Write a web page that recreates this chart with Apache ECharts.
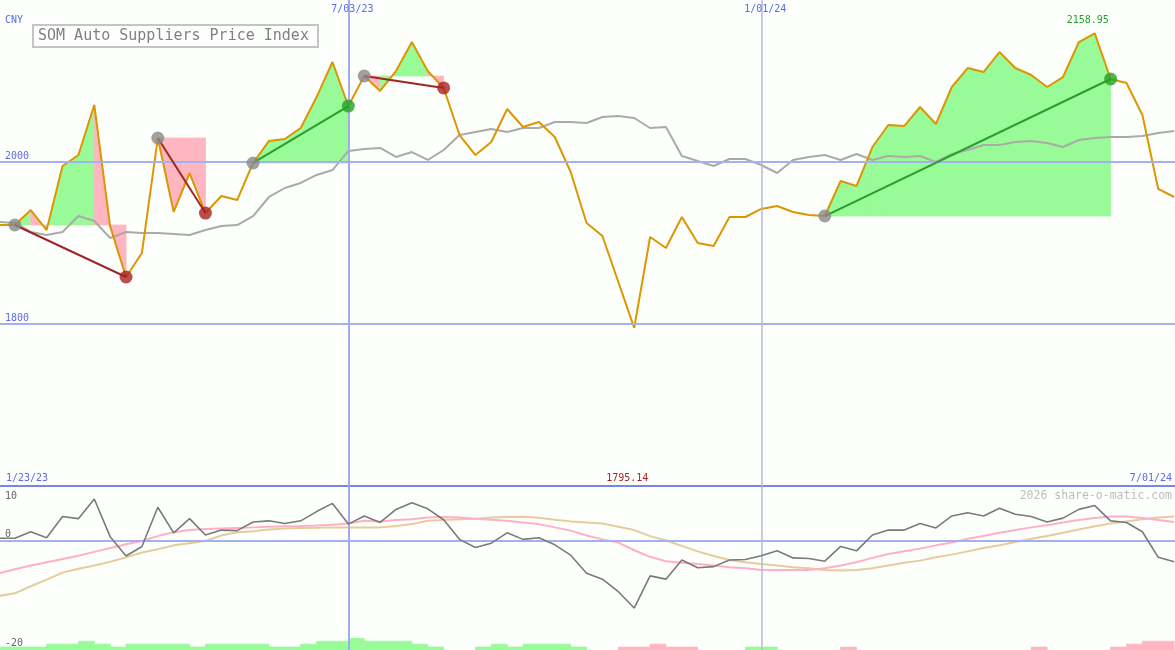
<!DOCTYPE html>
<html>
<head>
<meta charset="utf-8">
<script src="https://cdn.jsdelivr.net/npm/echarts@6/dist/echarts.min.js"></script>
<style>
html,body{margin:0;padding:0;background:#fdfffd;}
#chart{width:1175px;height:650px;}
</style>
</head>
<body>
<div id="chart"></div>
<script>
// ---- data (weekly) ----
const dates = [
'2023-01-30','2023-02-06','2023-02-13','2023-02-20','2023-02-27','2023-03-06','2023-03-13','2023-03-20','2023-03-27','2023-04-03',
'2023-04-10','2023-04-17','2023-04-24','2023-05-01','2023-05-08','2023-05-15','2023-05-22','2023-05-29','2023-06-05','2023-06-12',
'2023-06-19','2023-06-26','2023-07-03','2023-07-10','2023-07-17','2023-07-24','2023-07-31','2023-08-07','2023-08-14','2023-08-21',
'2023-08-28','2023-09-04','2023-09-11','2023-09-18','2023-09-25','2023-10-02','2023-10-09','2023-10-16','2023-10-23','2023-10-30',
'2023-11-06','2023-11-13','2023-11-20','2023-11-27','2023-12-04','2023-12-11','2023-12-18','2023-12-25','2024-01-01','2024-01-08',
'2024-01-15','2024-01-22','2024-01-29','2024-02-05','2024-02-12','2024-02-19','2024-02-26','2024-03-04','2024-03-11','2024-03-18',
'2024-03-25','2024-04-01','2024-04-08','2024-04-15','2024-04-22','2024-04-29','2024-05-06','2024-05-13','2024-05-20','2024-05-27',
'2024-06-03','2024-06-10','2024-06-17','2024-06-24','2024-07-01'];

const price = [
1922.2,1922.2,1940.7,1916.0,1995.1,2008.6,2070.4,1920.5,1858.0,1887.7,
2029.6,1938.3,1986.4,1937.0,1958.0,1953.1,1998.8,2026.0,2028.4,2042.0,
2080.2,2123.5,2069.1,2106.2,2087.7,2112.3,2148.1,2112.3,2091.4,2033.3,
2008.6,2024.7,2065.4,2043.2,2049.4,2030.9,1987.7,1924.7,1908.6,1851.9,
1795.14,1907.4,1893.8,1932.1,1900.0,1896.3,1932.1,1932.1,1942.0,1945.7,
1938.3,1934.6,1933.3,1976.5,1970.4,2018.5,2045.7,2044.4,2067.9,2046.9,
2092.6,2116.0,2111.1,2135.8,2116.0,2107.4,2092.6,2104.9,2148.1,2158.95,
2102.5,2097.5,2058.0,1966.7,1956.8];

const movingAvg = [
1925.9,1924.7,1913.6,1909.9,1913.6,1933.3,1927.2,1906.2,1913.6,1912.3,
1912.3,1911.1,1909.9,1916.0,1921.0,1922.2,1933.3,1956.8,1967.9,1974.1,
1984.0,1990.1,2013.6,2016.0,2017.3,2006.2,2012.3,2002.5,2014.8,2033.3,
2037.0,2040.7,2037.0,2042.0,2042.0,2049.4,2049.4,2048.1,2055.6,2056.8,
2054.3,2042.0,2043.2,2007.4,2001.2,1995.1,2003.7,2003.7,1996.3,1986.4,
2002.5,2006.2,2008.6,2002.5,2009.9,2002.5,2007.4,2006.2,2007.4,2000.0,
2009.9,2014.8,2021.0,2021.0,2024.7,2025.9,2023.5,2018.5,2027.2,2029.6,
2030.9,2030.9,2032.1,2035.8,2038.3];

const oscillator = [
0.5,0.5,1.7,0.6,4.5,4.1,7.7,0.8,-2.75,-1.0,
6.2,1.5,4.1,1.1,2.0,1.9,3.5,3.7,3.2,3.7,
5.4,6.9,3.1,4.6,3.4,5.8,7.0,5.9,3.9,0.3,
-1.2,-0.4,1.5,0.3,0.6,-0.7,-2.6,-5.9,-7.0,-9.3,
-12.3,-6.4,-7.0,-3.5,-4.9,-4.7,-3.5,-3.4,-2.7,-1.8,
-3.1,-3.2,-3.7,-1.0,-1.8,1.1,2.0,2.0,3.2,2.4,
4.6,5.2,4.6,6.0,4.9,4.5,3.5,4.2,5.8,6.5,
3.7,3.4,1.7,-3.0,-3.8];

const oscFast = [
-5.9,-5.2,-4.5,-3.9,-3.3,-2.7,-2.0,-1.3,-0.6,0.0,
0.9,1.6,2.0,2.2,2.3,2.4,2.5,2.6,2.7,2.75,
2.85,3.0,3.2,3.7,3.6,3.85,4.0,4.3,4.4,4.3,
4.1,3.9,3.7,3.4,3.1,2.5,1.9,1.0,0.3,-0.3,
-1.7,-2.9,-3.7,-4.0,-4.2,-4.5,-4.8,-5.0,-5.3,-5.3,
-5.3,-5.3,-5.0,-4.5,-3.9,-3.1,-2.4,-1.9,-1.4,-0.8,
-0.3,0.4,0.9,1.5,2.0,2.5,2.9,3.4,3.85,4.2,
4.5,4.5,4.2,3.85,3.5];

const oscSlow = [
-10.1,-9.6,-8.3,-7.1,-5.8,-5.1,-4.5,-3.8,-3.0,-2.1,
-1.5,-0.8,-0.4,0.0,1.0,1.6,1.8,2.1,2.3,2.4,
2.45,2.5,2.5,2.5,2.5,2.75,3.1,3.7,3.85,4.0,
4.1,4.3,4.4,4.45,4.25,3.9,3.6,3.4,3.2,2.6,
2.0,0.9,0.1,-0.9,-1.9,-2.75,-3.5,-3.9,-4.2,-4.5,
-4.8,-5.0,-5.3,-5.4,-5.3,-5.0,-4.5,-4.0,-3.6,-3.0,
-2.5,-1.9,-1.3,-0.8,-0.2,0.4,0.9,1.5,2.1,2.7,
3.2,3.6,4.0,4.3,4.5];

// weekly trend strength bars (interval i -> i+1); positive = up, negative = down
const trendBars = [
1,1,1,2,2,3,2,1,2,2,
2,2,1,2,2,2,2,1,1,2,
3,3,4,3,3,3,2,1,0,0,
1,2,1,2,2,2,1,0,0,-1,
-1,-2,-1,-1,0,0,0,1,1,0,
0,0,0,-1,0,0,0,0,0,0,
0,0,0,0,0,-1,0,0,0,0,
-1,-2,-3,-3];

const entryIdx = [1,10,16,23,52];
const exitIdx  = [8,13,22,28,70];

const mainTicks = [1800, 2000];
const lowerTicks = [10, 0, -20];
const markDates = ['2023-07-03','2024-01-01'];
const markDateLabels = ['7/03/23','1/01/24'];
const rangeLabels = ['1/23/23','7/01/24'];
const unitLabel = 'CNY';
const titleText = 'SOM Auto Suppliers Price Index';
const credit = '2026 share-o-matic.com';

// ---- build ----
const toTs = d => Date.parse(d + 'T00:00:00Z');
const ts = dates.map(toTs);
const xMin = Date.UTC(2023,0,30,10,35);
const xMax = Date.UTC(2024,6,1,9,7);

const GREEN = '#98fb98', PINK = '#ffb6c1';
const BLUE_T = '#5b6ae6';
const MONO = '"DejaVu Sans Mono", monospace';

const fillData = [];
const tradeData = [];
const dotData = [];
entryIdx.forEach((e, k) => {
  const x = exitIdx[k];
  for (let i = e; i < x; i++) {
    fillData.push([ts[i], price[i], ts[i+1], price[i+1], price[e]]);
  }
  const gain = price[x] >= price[e];
  tradeData.push([ts[e], price[e], ts[x], price[x], gain ? 1 : 0]);
  dotData.push({value:[ts[e], price[e]], itemStyle:{color:'#888888'}});
  dotData.push({value:[ts[x], price[x]], itemStyle:{color: gain ? '#25a025' : '#a82222'}});
});

const barData = trendBars.map((v, i) => [ts[i], ts[i+1], v]);
const pair = arr => arr.map((v, i) => [ts[i], v]);

const chart = echarts.init(document.getElementById('chart'), null, {renderer:'canvas'});

const option = {
  animation: false,
  backgroundColor: '#fdfffd',
  grid: [
    {left:0, right:0, top:0, height:486},
    {left:0, right:0, top:486.5, height:163.5}
  ],
  xAxis: [
    {type:'time', gridIndex:0, min:xMin, max:xMax,
     axisLine:{show:true, onZero:false, lineStyle:{color:'#7886e6', width:2}},
     axisTick:{show:false}, axisLabel:{show:false}, splitLine:{show:false}},
    {type:'time', gridIndex:1, min:xMin, max:xMax,
     axisLine:{show:false}, axisTick:{show:false}, axisLabel:{show:false}, splitLine:{show:false}}
  ],
  yAxis: [
    {type:'value', gridIndex:0, min:1600, max:2200, show:false, splitLine:{show:false}},
    {type:'value', gridIndex:1, min:-20, max:10, show:false, splitLine:{show:false}},
    {type:'value', gridIndex:1, min:0, max:56, show:false, splitLine:{show:false}}
  ],
  series: [
    { // grid lines (main)
      type:'line', xAxisIndex:0, yAxisIndex:0, data: pair(price), symbol:'none', silent:true, z:1,
      lineStyle:{opacity:0},
      markLine:{silent:true, symbol:'none', label:{show:false}, animation:false,
        data: [
          ...mainTicks.map(v => ({yAxis:v, lineStyle:{color:'#a4b0f0', width:2, type:'solid'}})),
          {xAxis: toTs(markDates[0]), lineStyle:{color:'#a0acee', width:2, type:'solid'}},
          {xAxis: toTs(markDates[1]), lineStyle:{color:'#b6bad2', width:1.5, type:'solid'}}
        ]}
    },
    { // trade shading
      type:'custom', xAxisIndex:0, yAxisIndex:0, z:2, clip:true, silent:true,
      encode:{x:[0,2], y:[1,3,4]},
      data: fillData,
      renderItem: (params, api) => {
        const x0 = api.value(0), y0 = api.value(1), x1 = api.value(2), y1 = api.value(3), e = api.value(4);
        const c = y1 >= e ? GREEN : PINK;
        return {type:'polygon',
          shape:{points:[api.coord([x0,e]), api.coord([x0,y0]), api.coord([x1,y1]), api.coord([x1,e])]},
          style:{fill: c, stroke: c, lineWidth: 0.8}};
      }
    },
    { // moving average
      type:'line', xAxisIndex:0, yAxisIndex:0, data: pair(movingAvg), symbol:'none', z:3, silent:true,
      lineStyle:{color:'#aaaaaa', width:2}
    },
    { // price
      type:'line', xAxisIndex:0, yAxisIndex:0, data: pair(price), symbol:'none', z:4, silent:true,
      lineStyle:{color:'#dd9600', width:2}
    },
    { // trade lines
      type:'custom', xAxisIndex:0, yAxisIndex:0, z:5, silent:true,
      encode:{x:[0,2], y:[1,3]},
      data: tradeData,
      renderItem: (params, api) => {
        const a = api.coord([api.value(0), api.value(1)]);
        const b = api.coord([api.value(2), api.value(3)]);
        return {type:'line', shape:{x1:a[0], y1:a[1], x2:b[0], y2:b[1]},
          style:{stroke: api.value(4) ? '#2a9d2a' : '#a02525', lineWidth:2}};
      }
    },
    { // dots
      type:'scatter', xAxisIndex:0, yAxisIndex:0, z:6, silent:true, symbolSize:13,
      data: dotData
    },
    { // lower grid lines
      type:'line', xAxisIndex:1, yAxisIndex:1, data: pair(oscillator), symbol:'none', silent:true, z:1,
      lineStyle:{opacity:0},
      markLine:{silent:true, symbol:'none', label:{show:false}, animation:false,
        data: [
          {yAxis:0, lineStyle:{color:'#a4b0f0', width:2, type:'solid'}},
          {xAxis: toTs(markDates[0]), lineStyle:{color:'#a0acee', width:2, type:'solid'}},
          {xAxis: toTs(markDates[1]), lineStyle:{color:'#b6bad2', width:1.5, type:'solid'}}
        ]}
    },
    { // trend bars
      type:'custom', xAxisIndex:1, yAxisIndex:2, z:2, clip:true, silent:true,
      encode:{x:[0,1], y:2},
      data: barData,
      renderItem: (params, api) => {
        const v = api.value(2);
        if (!v) return null;
        const a = api.coord([api.value(0), 0]);
        const b = api.coord([api.value(1), Math.abs(v)]);
        const c = v > 0 ? GREEN : PINK;
        return {type:'rect', shape:{x:a[0], y:b[1], width:b[0]-a[0], height:a[1]-b[1]},
          style:{fill: c, stroke: c, lineWidth: 0.8}};
      }
    },
    {
      type:'line', xAxisIndex:1, yAxisIndex:1, data: pair(oscSlow), symbol:'none', z:3, silent:true,
      lineStyle:{color:'#e6cc9c', width:2}
    },
    {
      type:'line', xAxisIndex:1, yAxisIndex:1, data: pair(oscFast), symbol:'none', z:4, silent:true,
      lineStyle:{color:'#ffb0c6', width:2}
    },
    {
      type:'line', xAxisIndex:1, yAxisIndex:1, data: pair(oscillator), symbol:'none', z:5, silent:true,
      lineStyle:{color:'#7a7a7a', width:1.6}
    }
  ]
};
chart.setOption(option);

// ---- labels positioned through the axes ----
const P0 = v => chart.convertToPixel({gridIndex:0}, v);
const P1 = v => chart.convertToPixel({gridIndex:1}, v);
const txt = (text, x, y, color, size, align) => ({
  type:'text', z:100, silent:true,
  style:{text, x, y, fill:color, font: size + 'px ' + MONO,
    textAlign: align || 'left', textVerticalAlign:'middle', align: align || 'left', verticalAlign:'middle'}
});

const g = [];
g.push({type:'rect', z:99, silent:true, shape:{x:33, y:25, width:285, height:22},
  style:{fill:'#fdfffd', stroke:'#c4c4c4', lineWidth:2}});
g.push(txt(titleText, 38, 36.5, '#808080', 15, 'left'));
g.push(txt(unitLabel, 5, 20.5, BLUE_T, 10, 'left'));
mainTicks.forEach(v => { const p = P0([xMin, v]); g.push(txt(String(v), 5, p[1]-6, BLUE_T, 10, 'left')); });
markDates.forEach((d, k) => { const p = P0([toTs(d), 2200]); g.push(txt(markDateLabels[k], p[0]+4, 9, BLUE_T, 10, 'center')); });
const iMax = price.indexOf(Math.max(...price));
const iMin = price.indexOf(Math.min(...price));
{ const p = P0([ts[iMax], price[iMax]]); g.push(txt(price[iMax].toFixed(2), p[0]-7, p[1]-12.5, '#25a025', 10, 'center')); }
{ const p = P0([ts[iMin], 1600]); g.push(txt(price[iMin].toFixed(2), p[0]-7, p[1]-8, '#a82222', 10, 'center')); }
{ const p = P0([xMin, 1600]); g.push(txt(rangeLabels[0], 6, p[1]-8, BLUE_T, 10, 'left')); g.push(txt(rangeLabels[1], 1172, p[1]-8, BLUE_T, 10, 'right')); }
g.push(txt(credit, 1172, 496, '#bdbdbd', 11.5, 'right'));
lowerTicks.forEach(v => {
  const p = P1([xMin, v]);
  const dy = v === 10 ? 9.5 : -7;
  g.push(txt(String(v), 5, p[1]+dy, '#666666', 10, 'left'));
});
chart.setOption({graphic: g});
</script>
</body>
</html>
